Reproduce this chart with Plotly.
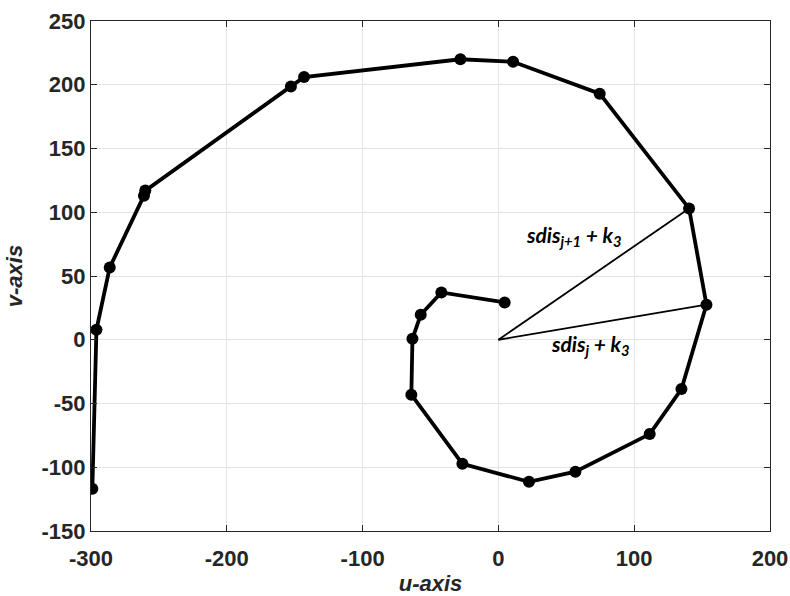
import plotly.graph_objects as go

u = [4.6, -42, -57.2, -63.3, -64.1, -26.5, 22.5, 56.7, 111.4, 134.8, 153.2, 140.4,
     74.6, 10.8, -28, -143.1, -152.8, -260, -261, -286.2, -296, -299]
v = [29.3, 37.1, 19.6, 0.8, -43.1, -97.3, -111.4, -103.5, -74, -38.7, 27.5, 103,
     193, 218, 220, 206, 198.7, 117, 113, 56.7, 7.8, -116.9]

ray1_u = [0, 140.4]
ray1_v = [0, 103]
ray2_u = [0, 153.2]
ray2_v = [0, 27.5]

xticks = [-300, -200, -100, 0, 100, 200]
yticks = [-150, -100, -50, 0, 50, 100, 150, 200, 250]

fig = go.Figure()
fig.add_trace(go.Scatter(x=ray1_u, y=ray1_v, mode="lines",
                         line=dict(color="black", width=1.8), showlegend=False))
fig.add_trace(go.Scatter(x=ray2_u, y=ray2_v, mode="lines",
                         line=dict(color="black", width=1.8), showlegend=False))
fig.add_trace(go.Scatter(x=u, y=v, mode="lines+markers",
                         line=dict(color="black", width=3.8),
                         marker=dict(color="black", size=12), showlegend=False))

fig.add_annotation(x=56, y=81, text="<b><i>sdis<sub>j+1</sub> + k<sub>3</sub></i></b>",
                   showarrow=False, font=dict(family="Lato", size=21, color="black"))
fig.add_annotation(x=68, y=-4, text="<b><i>sdis<sub>j</sub> + k<sub>3</sub></i></b>",
                   showarrow=False, font=dict(family="Lato", size=21, color="black"))

axis_common = dict(showgrid=True, gridcolor="#e3e3e3", gridwidth=1,
                   showline=True, linecolor="#262626", linewidth=1.2, mirror="ticks",
                   ticks="inside", ticklen=6, tickcolor="#262626",
                   zeroline=False, automargin=False,
                   tickfont=dict(family="Liberation Sans", size=22, color="#262626"))

fig.update_xaxes(range=[-300, 200], tickvals=xticks,
                 ticktext=["<b>%d</b>" % t for t in xticks],
                 ticklabelstandoff=7,
                 title=dict(text="<b><i>u-axis</i></b>", standoff=12,
                            font=dict(family="Liberation Sans", size=22, color="#262626")),
                 **axis_common)
fig.update_yaxes(range=[-150, 250], tickvals=yticks,
                 ticktext=["<b>%d</b>" % t for t in yticks],
                 title=dict(text="<b><i>v-axis</i></b>", standoff=12,
                            font=dict(family="Liberation Sans", size=22, color="#262626")),
                 **axis_common)

fig.update_layout(width=790, height=596, margin=dict(l=91, r=20, t=21, b=65),
                  plot_bgcolor="white", paper_bgcolor="white",
                  font=dict(family="Liberation Sans"))

fig.write_html("out.html")
